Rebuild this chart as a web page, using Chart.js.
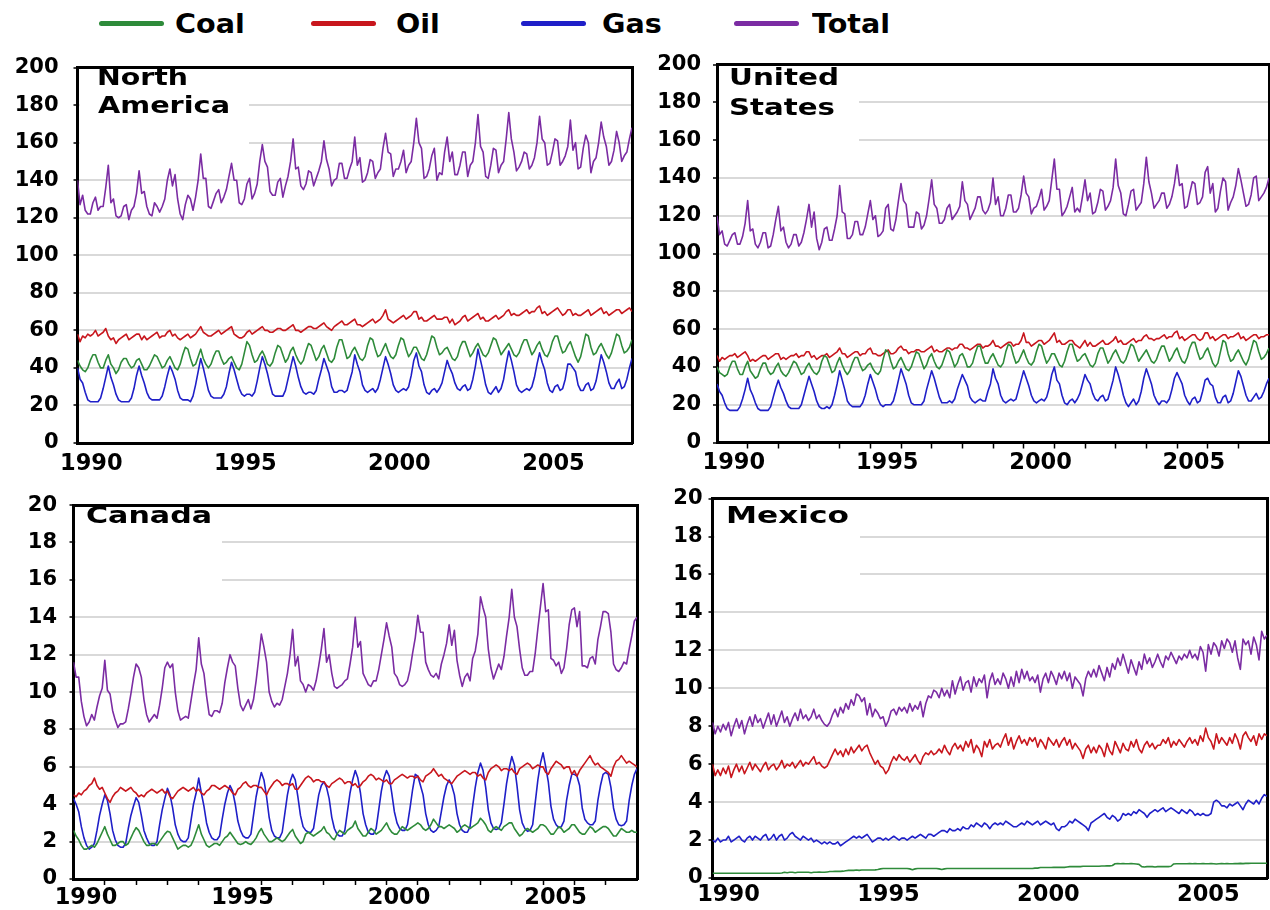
<!DOCTYPE html>
<html><head><meta charset="utf-8">
<script src="https://cdn.jsdelivr.net/npm/chart.js@4.4.1/dist/chart.umd.min.js"></script>
<style>
html,body{margin:0;padding:0;background:#fff;width:1270px;height:910px;overflow:hidden;}
#wrap{position:relative;width:1270px;height:910px;}
canvas{position:absolute;}
.ln{position:absolute;top:21px;height:5px;width:65px;border-radius:3px;}
.tx{position:absolute;top:11px;font:bold 26px "DejaVu Sans";line-height:26px;transform:scaleX(1.1);transform-origin:0 0;white-space:nowrap;color:#000;}
</style></head><body>
<div id="wrap">
<canvas id="cNA" width="640" height="440" style="left:0;top:40px"></canvas>
<canvas id="cUS" width="630" height="440" style="left:640px;top:40px"></canvas>
<canvas id="cCA" width="640" height="430" style="left:0;top:480px"></canvas>
<canvas id="cMX" width="630" height="430" style="left:640px;top:480px"></canvas>
</div>
<script>
// ---------------- DATA (monthly, starting January 1990) ----------------
const START_YEAR = 1990;
const seriesNames = ['Coal', 'Oil', 'Gas', 'Total'];
const xTickLabels = ['1990', '1995', '2000', '2005'];
const yTicksLarge = [0, 20, 40, 60, 80, 100, 120, 140, 160, 180, 200];
const yTicksSmall = [0, 2, 4, 6, 8, 10, 12, 14, 16, 18, 20];
const titleNA = ['North', 'America'];
const titleUS = ['United', 'States'];
const titleCA = ['Canada'];
const titleMX = ['Mexico'];

const naCoal = [
44,41,39,38,40,44,47,47,43,40,40,44,
47,42,40,37,39,43,45,45,42,40,41,44,
45,42,39,39,41,44,47,46,43,40,41,44,
46,43,40,39,42,47,51,50,45,41,42,46,
50,45,42,40,42,46,49,49,45,42,43,45,
46,43,40,39,42,48,54,52,47,43,44,47,
49,46,42,41,43,48,52,51,47,43,45,49,
51,47,44,42,44,49,53,52,48,44,46,50,
52,48,44,43,45,51,55,55,50,45,46,49,
51,48,45,44,46,52,56,55,50,46,47,50,
53,49,46,45,47,52,56,55,50,46,48,51,
51,48,45,44,47,52,57,56,51,47,48,50,
51,48,45,44,46,51,54,54,50,46,48,51,
53,50,47,46,48,52,56,55,51,47,49,51,
53,50,47,46,48,52,55,55,51,47,49,52,
54,50,47,46,49,54,57,57,52,48,49,52,
54,50,46,43,46,52,58,57,51,47,48,51,
53,50,47,45,48,53,58,57,52,48,49,51,
55];
const naOil = [
58,54,57,56,58,57,58,60,57,58,59,61,
57,55,56,53,55,56,57,58,55,56,57,58,
58,55,57,55,56,57,58,59,56,57,57,59,
60,57,58,56,55,56,57,58,56,57,58,60,
62,59,58,57,57,58,59,60,58,59,60,61,
62,58,57,56,56,57,59,60,58,59,60,61,
62,60,60,59,59,60,61,61,60,60,61,62,
63,60,60,59,60,61,62,62,61,61,62,63,
64,62,61,60,62,63,64,65,63,63,64,65,
66,63,63,62,63,64,65,66,64,65,66,68,
71,66,65,64,65,66,67,68,66,67,68,70,
70,66,67,65,65,66,67,68,66,66,66,67,
67,64,66,63,64,65,67,68,65,66,67,68,
69,66,67,65,65,66,67,68,66,67,68,70,
71,68,69,68,68,69,70,71,69,70,70,72,
73,69,70,68,69,70,71,72,70,68,69,71,
71,68,69,68,68,69,70,71,68,69,70,71,
72,69,70,68,69,70,71,71,69,70,71,72,
70];
const naGas = [
40,34,32,27,23,22,22,22,22,24,29,35,
41,35,31,26,23,22,22,22,22,24,29,36,
41,36,32,27,24,23,23,23,23,25,30,36,
41,38,34,28,24,23,23,23,22,25,31,38,
45,40,34,28,25,24,24,24,24,26,30,37,
43,39,34,29,26,25,26,26,25,27,33,40,
46,42,37,31,26,25,25,25,25,28,34,40,
46,41,35,30,27,26,27,27,26,28,34,39,
45,41,37,30,27,27,28,28,27,28,33,38,
47,42,38,31,28,27,28,29,27,29,34,40,
46,42,37,31,28,27,28,29,28,30,36,44,
48,41,38,31,27,26,28,29,27,29,32,38,
44,40,37,32,29,28,30,31,28,29,34,41,
50,44,38,31,27,26,28,30,27,29,34,42,
49,44,38,31,28,27,28,29,28,30,35,42,
48,43,39,32,28,27,30,31,28,29,34,42,
42,40,38,31,28,28,31,32,28,29,33,40,
47,43,38,32,29,29,32,34,29,30,34,40,
45];
const naTotal = [
140,127,132,124,122,122,128,131,124,126,126,136,
148,128,130,121,120,121,126,127,119,124,126,133,
145,133,134,126,122,121,128,126,123,126,130,140,
146,137,143,130,122,119,127,132,130,124,131,140,
154,141,141,126,125,129,133,135,128,131,135,142,
149,140,140,128,127,130,138,141,130,133,138,150,
159,150,147,134,132,132,139,141,131,137,142,150,
162,146,147,137,135,138,145,144,137,141,145,150,
161,151,146,137,140,141,149,149,141,141,146,150,
163,148,152,139,140,144,151,150,141,144,146,157,
165,155,154,142,146,146,150,156,144,148,150,160,
173,160,157,141,142,146,153,157,140,144,143,155,
163,150,155,143,143,148,155,155,142,148,150,160,
175,158,155,142,141,148,157,156,144,148,150,162,
176,162,155,145,147,150,155,154,146,148,152,160,
174,162,160,148,149,155,162,161,148,150,153,158,
172,156,160,146,147,157,164,160,144,150,152,160,
171,163,158,148,150,156,166,160,150,153,155,162,
168];

const usCoal = [
40,37,36,35,36,40,43,43,39,36,36,40,
43,38,36,34,35,39,42,42,38,36,37,40,
42,38,36,35,37,40,43,42,39,36,37,40,
42,39,37,36,38,43,46,45,41,37,38,42,
45,41,38,36,38,42,45,45,41,38,39,41,
42,39,37,36,38,44,49,48,43,39,40,43,
45,42,39,38,40,44,48,47,43,39,41,45,
47,43,40,39,41,45,49,48,44,40,42,46,
47,44,40,40,42,47,51,51,46,42,42,45,
47,44,41,40,42,48,52,51,46,42,43,46,
49,45,42,41,43,48,52,51,46,42,44,47,
47,44,41,40,43,48,52,52,47,43,44,46,
47,44,41,40,42,47,50,50,46,42,44,47,
49,46,43,42,44,48,52,51,47,43,45,47,
49,46,43,42,44,48,51,51,47,43,45,48,
50,46,43,42,45,50,53,53,48,44,45,48,
50,46,42,40,42,48,54,53,47,43,44,47,
49,46,43,41,44,49,54,53,48,44,45,47,
50];
const usOil = [
46,43,45,44,45,46,46,47,45,46,47,48,
46,43,44,43,44,45,46,46,44,45,46,47,
47,44,45,44,45,46,46,47,45,46,46,48,
48,45,46,44,45,46,46,47,45,46,47,48,
50,47,47,45,46,47,48,48,46,47,47,49,
50,47,47,46,46,47,48,49,47,47,48,50,
51,49,49,47,48,48,49,49,48,48,49,50,
51,48,49,48,48,49,50,50,49,50,50,52,
52,50,50,49,50,51,52,52,50,51,51,52,
54,51,51,50,51,52,53,53,51,52,52,54,
58,53,53,51,52,53,54,54,52,53,54,56,
58,53,54,52,52,53,54,54,52,51,50,52,
54,51,53,51,51,52,53,54,52,52,53,54,
56,53,54,52,52,53,54,55,53,54,54,56,
57,55,55,54,55,55,56,57,55,56,56,58,
59,55,56,54,55,56,57,57,55,54,55,58,
58,55,56,54,55,56,57,57,55,56,56,57,
58,55,56,54,55,56,57,57,55,56,56,57,
57];
const usGas = [
31,27,25,21,18,17,17,17,17,19,23,28,
34,28,25,21,18,17,17,17,17,19,24,29,
33,29,26,22,19,18,18,18,18,20,25,30,
35,31,27,22,19,18,18,19,18,20,25,31,
38,33,28,22,20,19,19,19,19,21,25,31,
36,32,28,23,20,19,20,20,20,22,27,33,
39,35,31,25,21,20,20,20,20,22,28,33,
38,34,29,24,21,21,21,22,21,23,28,32,
36,33,30,24,22,21,22,23,22,22,27,31,
39,34,31,25,22,21,22,23,22,23,28,33,
38,34,30,25,22,21,22,23,22,24,29,36,
40,33,31,25,21,20,22,23,21,23,26,31,
36,33,31,26,23,22,24,25,22,23,28,33,
40,36,31,25,21,19,21,23,20,22,27,34,
39,35,31,25,22,20,22,22,21,23,28,34,
37,34,31,25,22,20,23,24,21,22,27,33,
34,31,30,24,21,21,24,25,21,22,26,32,
38,35,30,25,22,22,24,26,23,24,27,31,
34];
const usTotal = [
120,110,112,105,104,107,110,111,105,105,109,116,
128,112,113,105,103,106,111,111,103,104,110,118,
125,112,114,106,103,105,110,110,104,106,111,118,
126,114,122,108,102,106,113,114,107,107,113,120,
136,122,121,108,108,110,117,117,110,110,114,121,
128,118,120,109,110,112,124,126,113,112,118,128,
137,128,126,114,114,114,122,121,113,115,120,129,
139,126,124,116,116,118,124,126,118,120,122,125,
138,128,126,118,121,124,130,130,123,121,123,127,
140,126,130,120,120,124,131,131,122,122,124,131,
141,132,130,121,124,125,129,134,123,125,128,139,
150,134,134,120,122,125,130,135,122,124,122,130,
139,128,132,121,122,127,134,133,123,125,128,135,
150,136,132,121,120,126,133,134,123,125,127,137,
151,138,132,124,126,128,132,132,124,126,130,137,
147,136,137,124,125,132,138,137,126,127,130,143,
146,132,137,122,124,133,140,138,123,127,130,136,
145,139,132,125,126,131,140,141,128,130,132,135,
140];

const caCoal = [
2.6,2.3,2.1,1.8,1.6,1.6,1.7,1.8,1.7,1.9,2.2,2.5,
2.8,2.4,2.1,1.8,1.8,1.9,2.0,2.0,1.8,1.9,2.2,2.5,
2.75,2.6,2.3,2.0,1.8,1.8,1.9,1.9,1.8,2.0,2.2,2.4,
2.55,2.5,2.2,1.9,1.6,1.7,1.8,1.8,1.7,1.8,2.1,2.5,
2.9,2.4,2.1,1.8,1.7,1.8,1.9,1.9,1.8,2.0,2.2,2.3,
2.5,2.3,2.1,1.9,1.85,1.9,2.0,1.9,1.85,2.0,2.2,2.5,
2.7,2.4,2.2,2.0,2.0,2.1,2.2,2.1,2.0,2.1,2.3,2.5,
2.65,2.3,2.1,1.9,2.0,2.4,2.5,2.4,2.3,2.4,2.5,2.6,
2.8,2.5,2.4,2.2,2.1,2.4,2.6,2.5,2.4,2.6,2.7,2.8,
3.1,2.7,2.5,2.3,2.3,2.5,2.7,2.6,2.4,2.5,2.6,2.8,
3.0,2.7,2.5,2.4,2.4,2.6,2.8,2.7,2.6,2.7,2.8,2.9,
3.0,2.9,2.7,2.6,2.7,2.9,3.2,3.0,2.8,2.8,2.7,2.8,
2.9,2.8,2.7,2.5,2.6,2.8,2.9,2.8,2.7,2.8,2.9,3.0,
3.25,3.1,2.9,2.6,2.5,2.7,2.8,2.7,2.6,2.8,2.9,3.0,
3.0,2.7,2.5,2.3,2.4,2.6,2.7,2.6,2.5,2.6,2.7,2.9,
2.9,2.8,2.6,2.4,2.4,2.6,2.8,2.7,2.5,2.6,2.7,2.9,
2.9,2.7,2.5,2.4,2.4,2.6,2.8,2.7,2.5,2.6,2.7,2.8,
2.8,2.7,2.5,2.3,2.3,2.5,2.7,2.6,2.5,2.5,2.6,2.5,
2.5];
const caOil = [
4.5,4.4,4.6,4.5,4.7,4.8,5.0,5.1,5.4,5.0,4.8,4.9,
4.6,4.3,4.1,4.4,4.6,4.7,4.9,4.8,4.7,4.8,4.9,4.7,
4.6,4.4,4.5,4.4,4.6,4.7,4.8,4.7,4.6,4.7,4.8,4.6,
4.7,4.4,4.3,4.5,4.7,4.8,4.9,4.8,4.7,4.8,4.9,4.7,
4.8,4.6,4.5,4.7,4.8,5.0,5.0,4.9,4.8,4.9,5.0,4.9,
4.8,4.6,4.5,4.8,4.9,5.1,5.2,5.0,4.9,5.0,5.0,4.9,
4.9,4.7,4.5,4.8,5.0,5.2,5.3,5.2,5.0,5.1,5.1,5.0,
5.1,4.8,4.8,5.0,5.2,5.4,5.5,5.4,5.2,5.3,5.3,5.2,
5.2,5.0,4.9,5.1,5.2,5.3,5.4,5.3,5.1,5.2,5.2,5.0,
5.1,4.9,5.0,5.2,5.3,5.5,5.6,5.5,5.3,5.4,5.3,5.2,
5.3,5.1,5.1,5.3,5.4,5.5,5.6,5.5,5.4,5.5,5.5,5.4,
5.5,5.3,5.2,5.5,5.6,5.7,5.9,5.7,5.5,5.6,5.4,5.3,
5.2,5.1,5.3,5.5,5.6,5.7,5.8,5.7,5.6,5.7,5.7,5.5,
5.6,5.4,5.3,5.7,5.9,6.0,6.1,6.0,5.8,5.9,5.9,5.8,
5.9,5.7,5.6,5.9,6.0,6.1,6.2,6.1,5.9,6.0,6.1,6.0,
6.0,5.7,5.6,5.9,6.1,6.3,6.2,6.1,5.9,6.0,6.0,5.6,
5.8,5.5,5.8,6.0,6.2,6.4,6.6,6.3,6.1,6.2,6.0,5.9,
5.8,5.7,5.5,6.0,6.3,6.4,6.6,6.4,6.2,6.3,6.2,6.1,
6.0];
const caGas = [
4.3,4.0,3.6,2.8,2.2,1.8,1.6,1.7,1.9,2.6,3.4,4.0,
4.5,4.2,3.5,2.6,2.1,1.8,1.7,1.7,1.9,2.7,3.4,3.9,
4.35,4.1,3.4,2.6,2.2,1.9,1.8,1.8,2.0,2.9,3.7,4.3,
4.85,4.5,3.8,2.9,2.4,2.1,2.0,2.0,2.2,3.1,4.0,4.6,
5.4,4.6,3.9,3.0,2.5,2.2,2.1,2.1,2.3,3.2,4.0,4.6,
5.0,4.7,4.0,3.1,2.6,2.3,2.2,2.2,2.4,3.4,4.4,5.1,
5.7,5.3,4.4,3.3,2.6,2.3,2.2,2.2,2.5,3.5,4.5,5.2,
5.6,5.3,4.4,3.4,2.8,2.6,2.5,2.5,2.7,3.6,4.5,5.0,
5.2,4.9,4.3,3.3,2.7,2.4,2.3,2.3,2.6,3.6,4.6,5.3,
5.8,5.4,4.6,3.5,2.9,2.5,2.4,2.4,2.7,3.7,4.7,5.4,
5.8,5.5,4.6,3.6,3.0,2.7,2.6,2.6,2.9,3.8,4.8,5.6,
5.5,5.0,4.5,3.5,2.9,2.6,2.5,2.6,2.8,3.6,4.4,5.0,
5.3,5.0,4.5,3.5,2.9,2.6,2.5,2.5,2.8,3.9,4.9,5.7,
6.2,5.8,4.9,3.7,3.0,2.7,2.65,2.7,3.0,4.0,5.1,5.9,
6.55,6.1,5.0,3.7,3.0,2.7,2.55,2.6,2.9,4.1,5.3,6.2,
6.75,6.0,5.2,3.9,3.2,2.9,2.75,2.8,3.1,4.2,5.0,5.6,
5.6,5.5,5.0,3.8,3.2,3.0,2.9,2.9,3.1,4.2,5.0,5.6,
5.7,5.6,4.9,3.8,3.2,2.9,2.85,2.9,3.1,4.2,5.0,5.6,
5.9];
const caTotal = [
11.6,10.8,10.8,9.5,8.7,8.2,8.4,8.8,8.5,9.2,9.8,10.2,
11.7,10.1,9.9,9.0,8.5,8.1,8.3,8.3,8.4,9.1,9.9,10.8,
11.5,11.3,10.8,9.6,8.8,8.4,8.6,8.8,8.6,9.3,10.2,11.3,
11.6,11.3,11.5,10.0,9.0,8.5,8.6,8.7,8.6,9.5,10.4,11.2,
12.9,11.5,11.0,9.8,8.8,8.7,9.0,9.0,8.9,9.4,10.5,11.3,
12.0,11.6,11.4,10.2,9.3,9.0,9.3,9.6,9.1,9.6,10.6,11.8,
13.1,12.4,11.6,10.0,9.5,9.2,9.4,9.3,9.6,10.3,11.0,12.0,
13.35,11.4,11.9,10.6,10.4,10.0,10.4,10.3,10.1,10.6,11.4,12.3,
13.4,11.6,12.0,11.0,10.3,10.2,10.3,10.4,10.6,10.7,11.5,12.4,
14.0,12.4,12.7,11.0,10.7,10.4,10.3,10.6,10.6,11.2,12.0,12.8,
13.7,13.0,12.4,11.0,10.8,10.4,10.3,10.4,10.6,11.2,12.1,12.9,
14.1,13.2,13.2,11.6,11.2,10.9,10.8,11.0,10.7,11.5,12.0,12.6,
13.6,12.5,13.3,11.7,10.9,10.3,10.8,11.0,10.6,11.8,12.2,13.1,
15.1,14.5,14.0,12.3,11.3,10.7,11.1,11.5,11.2,11.9,13.0,14.0,
15.5,14.0,13.5,12.3,11.3,10.9,10.9,11.1,11.1,12.1,13.4,14.6,
15.8,14.3,14.4,11.8,11.7,11.4,11.6,11.0,11.3,12.3,13.6,14.4,
14.5,13.5,14.3,11.4,11.4,11.3,11.8,11.9,11.5,12.8,13.5,14.3,
14.3,14.2,13.2,11.5,11.2,11.1,11.3,11.6,11.5,12.3,13.0,13.8,
14.0];

const mxCoal = [
0.25,0.25,0.25,0.25,0.25,0.25,0.25,0.25,0.25,0.25,0.25,0.25,
0.25,0.25,0.25,0.25,0.25,0.25,0.25,0.25,0.25,0.25,0.25,0.25,
0.25,0.25,0.26,0.3,0.28,0.3,0.3,0.28,0.3,0.3,0.3,0.3,
0.3,0.28,0.3,0.3,0.32,0.3,0.3,0.32,0.34,0.34,0.35,0.35,
0.35,0.36,0.38,0.4,0.4,0.4,0.42,0.4,0.42,0.42,0.42,0.42,
0.42,0.43,0.45,0.48,0.5,0.5,0.5,0.5,0.5,0.5,0.5,0.5,
0.5,0.5,0.48,0.44,0.48,0.5,0.5,0.5,0.5,0.5,0.5,0.5,
0.5,0.48,0.45,0.48,0.5,0.5,0.5,0.5,0.5,0.5,0.5,0.5,
0.5,0.5,0.5,0.5,0.5,0.5,0.5,0.5,0.5,0.5,0.5,0.5,
0.5,0.5,0.5,0.5,0.5,0.5,0.5,0.5,0.5,0.5,0.5,0.5,
0.5,0.52,0.52,0.55,0.55,0.55,0.55,0.55,0.56,0.56,0.56,0.56,
0.56,0.58,0.6,0.6,0.6,0.6,0.6,0.62,0.62,0.62,0.62,0.62,
0.62,0.62,0.63,0.63,0.64,0.64,0.66,0.75,0.76,0.75,0.76,0.75,
0.75,0.76,0.75,0.74,0.72,0.6,0.58,0.6,0.6,0.6,0.58,0.6,
0.6,0.6,0.6,0.6,0.62,0.74,0.75,0.75,0.75,0.75,0.75,0.76,
0.75,0.76,0.75,0.75,0.76,0.75,0.75,0.76,0.75,0.74,0.75,0.76,
0.75,0.76,0.75,0.75,0.76,0.76,0.77,0.76,0.77,0.77,0.78,0.78,
0.78,0.78,0.78,0.78,0.78];
const mxOil = [
6.0,5.4,5.7,5.4,5.8,5.5,5.9,5.3,5.7,6.0,5.6,5.9,
5.5,5.8,6.1,5.7,6.0,5.8,5.6,5.9,6.1,5.7,5.9,6.0,
5.7,5.9,6.2,5.8,6.0,5.9,6.1,5.8,6.0,6.2,5.9,6.1,
6.0,6.2,6.4,6.0,6.1,5.9,5.8,5.9,6.2,6.5,6.8,6.5,
6.7,6.4,6.8,6.5,6.9,6.6,6.8,7.0,6.7,6.9,7.0,6.6,
6.3,6.0,6.2,5.9,5.8,5.5,5.7,6.1,6.4,6.2,6.5,6.3,
6.2,6.4,6.1,6.3,6.5,6.2,6.0,6.4,6.6,6.5,6.7,6.5,
6.6,6.8,6.6,7.0,6.7,6.5,6.9,7.1,6.8,7.0,6.7,7.2,
6.9,7.3,6.6,7.0,6.8,6.4,7.2,6.9,7.3,6.8,7.0,7.1,
6.9,7.3,7.6,7.0,7.4,6.8,7.2,7.5,7.1,7.3,7.0,7.4,
7.2,7.4,6.9,7.3,7.1,6.8,7.4,7.2,7.0,7.3,6.9,7.2,
7.4,7.0,7.3,6.8,7.1,6.9,6.7,6.3,6.8,7.0,6.6,6.9,
6.6,7.0,6.8,6.4,7.1,6.7,6.5,7.2,6.9,6.6,7.1,6.8,
6.7,7.2,6.9,7.3,6.8,6.6,7.0,7.2,6.9,7.1,6.8,7.0,
7.0,7.3,7.1,7.4,6.9,7.2,7.0,7.3,7.1,6.9,7.2,7.4,
7.1,7.3,7.0,7.5,7.2,7.9,7.4,7.2,6.8,7.6,7.1,7.4,
7.2,7.0,7.4,7.1,7.6,7.3,6.8,7.5,7.7,7.4,7.2,7.5,
7.0,7.6,7.3,7.6,7.5];
const mxGas = [
2.0,1.9,2.1,1.9,2.0,2.0,2.2,1.9,2.0,2.1,2.2,2.0,
1.9,2.1,2.2,2.0,2.2,2.1,2.0,2.2,2.3,2.0,2.1,2.3,
2.0,2.2,2.3,2.0,2.1,2.3,2.4,2.2,2.1,2.0,2.2,2.1,
2.0,2.1,1.9,2.0,1.9,1.8,1.9,1.8,1.9,1.8,1.8,1.9,
1.7,1.8,1.9,2.0,2.1,2.2,2.1,2.2,2.1,2.2,2.3,2.1,
1.9,2.0,2.1,2.1,2.0,2.1,2.0,2.1,2.2,2.1,2.0,2.1,
2.1,2.0,2.1,2.2,2.1,2.2,2.3,2.2,2.1,2.3,2.3,2.2,
2.3,2.4,2.5,2.5,2.4,2.6,2.5,2.5,2.6,2.5,2.7,2.6,
2.6,2.8,2.7,2.9,2.8,2.7,2.9,2.8,2.6,2.8,2.9,2.8,
2.9,2.8,3.0,2.9,2.8,2.7,2.7,2.8,2.9,2.8,3.0,2.9,
2.8,2.9,3.0,2.8,2.9,3.0,2.9,2.8,2.9,2.6,2.5,2.7,
2.7,2.8,3.0,2.9,3.1,3.0,2.9,2.8,2.7,2.5,2.9,3.0,
3.1,3.2,3.3,3.4,3.2,3.1,3.3,3.2,3.0,3.1,3.4,3.3,
3.4,3.3,3.5,3.4,3.6,3.5,3.4,3.2,3.4,3.5,3.6,3.5,
3.6,3.7,3.5,3.6,3.7,3.6,3.5,3.4,3.6,3.5,3.4,3.6,
3.5,3.3,3.4,3.3,3.4,3.3,3.3,3.4,4.0,4.1,4.0,3.8,
3.8,3.7,3.9,3.8,3.9,4.0,3.8,3.6,3.9,4.1,4.0,3.9,
4.1,3.9,4.2,4.4,4.3];
const mxTotal = [
8.2,7.6,8.0,7.7,8.1,7.8,8.2,7.5,8.0,8.4,7.9,8.3,
7.6,8.1,8.5,8.0,8.6,8.2,8.4,7.9,8.3,8.7,8.1,8.6,
8.0,8.4,8.8,8.2,8.5,8.0,8.4,8.7,8.3,8.9,8.4,8.6,
8.3,8.5,8.9,8.4,8.6,8.3,8.1,8.0,8.2,8.6,8.9,8.5,
9.0,8.7,9.2,8.9,9.4,9.1,9.7,9.6,9.3,9.5,8.6,9.2,
8.5,8.9,8.7,8.4,8.5,8.0,8.3,8.8,8.9,8.6,9.0,8.8,
9.0,8.7,9.2,8.8,9.1,8.9,9.3,8.5,9.2,9.6,9.5,9.9,
9.8,9.5,10.0,9.6,9.9,9.5,10.4,9.7,10.2,10.6,9.9,10.3,
10.4,9.8,10.6,10.1,10.5,10.3,10.7,9.5,10.4,10.8,10.2,10.5,
10.2,10.8,10.5,10.0,10.6,10.1,10.9,10.3,11.0,10.5,10.9,10.4,
10.6,10.3,10.7,9.8,10.5,10.8,10.3,10.9,10.6,10.2,10.8,10.5,
10.9,10.4,10.8,10.0,10.6,10.4,10.2,9.6,10.5,10.9,10.6,11.0,
10.6,11.2,10.8,10.4,11.1,10.6,11.3,11.0,11.6,11.2,11.8,11.3,
10.8,11.5,11.1,10.7,11.4,11.0,11.8,11.3,11.6,11.1,11.4,11.8,
11.4,11.1,11.7,11.5,11.9,11.6,11.3,11.7,11.5,11.8,11.6,12.0,
11.6,11.8,11.5,12.2,11.9,10.9,12.3,11.8,12.4,12.2,11.7,12.5,
12.1,12.6,12.4,11.9,12.5,11.6,11.0,12.6,12.3,12.5,11.8,12.7,
12.3,11.5,13.0,12.6,12.8];

// ---------------- STYLE / LAYOUT ----------------
const colors = ['#2e8b3a', '#c8161d', '#1f1fc8', '#7b2ca3'];
const FONT = 'DejaVu Sans';

// legend (HTML, real text)
const legendLineX = [99, 311, 521, 734];
const legendTextX = [175, 396, 602, 812];
const wrap = document.getElementById('wrap');
seriesNames.forEach((n, i) => {
  const l = document.createElement('div');
  l.className = 'ln'; l.style.left = legendLineX[i] + 'px'; l.style.background = colors[i];
  wrap.appendChild(l);
  const t = document.createElement('div');
  t.className = 'tx'; t.style.left = legendTextX[i] + 'px'; t.textContent = n;
  wrap.appendChild(t);
});

function toPoints(arr) { return arr.map((v, i) => ({ x: START_YEAR + i / 12, y: v })); }

function makePanel(p) {
  const xMax = START_YEAR + (p.series[0].length - 1) / 12;
  const labelVals = xTickLabels.map(s => parseInt(s, 10) + p.labelOffset);
  const yearVals = [];
  for (let y = START_YEAR + 1; y < Math.floor(xMax + 1e-9); y++) yearVals.push(y);
  const tickVals = yearVals.concat(labelVals).sort((a, b) => a - b);
  const yTicks = p.yTicks;

  const titlePlugin = {
    id: 'panelTitle',
    beforeDatasetsDraw(chart) {
      const { ctx, chartArea, scales } = chart;
      const yb = scales.y.getPixelForValue(p.boxBottom);
      ctx.save();
      ctx.fillStyle = '#fff';
      ctx.fillRect(chartArea.left + 2, chartArea.top + 2, p.boxRight - chartArea.left - 2, yb - chartArea.top - 2);
      ctx.restore();
    },
    afterDatasetsDraw(chart) {
      const ctx = chart.ctx;
      ctx.save();
      ctx.fillStyle = '#000';
      ctx.font = 'bold 23.5px "' + FONT + '"';
      ctx.textBaseline = 'alphabetic';
      ctx.textAlign = 'left';
      p.title.forEach((t, i) => {
        const [x, y, w] = p.titlePos[i];
        const m = ctx.measureText(t).width;
        ctx.save(); ctx.translate(x, y); ctx.scale(w / m, 1); ctx.fillText(t, 0, 0); ctx.restore();
      });
      ctx.restore();
    }
  };

  new Chart(document.getElementById(p.id), {
    type: 'line',
    data: {
      datasets: p.series.map((arr, i) => ({
        label: seriesNames[i],
        data: toPoints(arr),
        borderColor: colors[i],
        backgroundColor: colors[i],
        borderWidth: 1.6,
        pointRadius: 0,
        tension: 0,
        borderJoinStyle: 'round',
        fill: false
      }))
    },
    options: {
      responsive: false,
      animation: false,
      devicePixelRatio: 1,
      layout: { padding: { left: 0, right: p.padRight, top: p.padTop, bottom: 0 } },
      plugins: { legend: { display: false }, tooltip: { enabled: false }, title: { display: false } },
      scales: {
        x: {
          type: 'linear', min: START_YEAR, max: xMax,
          afterBuildTicks: s => { s.ticks = tickVals.map(v => ({ value: v })); },
          afterFit: s => { s.height = p.xAxisH; },
          ticks: {
            autoSkip: false, maxRotation: 0, minRotation: 0, padding: p.xPad, color: '#000',
            font: { family: FONT, size: 22.5, weight: 'bold', lineHeight: 1 },
            callback: (v) => { const k = labelVals.indexOf(v); return k >= 0 ? xTickLabels[k] : ''; }
          },
          grid: {
            drawOnChartArea: false, drawTicks: true, tickLength: 6, tickWidth: 1.5,
            tickColor: (c) => (p.yearTicks && c.tick && Number.isInteger(c.tick.value)) ? '#000' : 'rgba(0,0,0,0)'
          },
          border: { display: true, color: '#000', width: 3 }
        },
        y: {
          type: 'linear', min: yTicks[0], max: yTicks[yTicks.length - 1],
          afterBuildTicks: s => { s.ticks = yTicks.map(v => ({ value: v })); },
          afterFit: s => { s.width = p.yAxisW; },
          ticks: { padding: p.yPad, color: '#000', font: { family: FONT, size: 21, weight: 'bold' }, callback: v => String(v) },
          grid: { color: '#d9d9d9', lineWidth: 2, tickColor: '#000', tickLength: 4, tickWidth: 1.5 },
          border: { display: true, color: '#000', width: 3 }
        },
        xTop: {
          type: 'linear', position: 'top', min: 0, max: 1,
          afterFit: s => { s.height = 0; },
          ticks: { display: false }, grid: { display: false, drawTicks: false },
          border: { display: true, color: '#000', width: 3 }
        },
        yRight: {
          type: 'linear', position: 'right', min: 0, max: 1,
          afterFit: s => { s.width = 0; },
          ticks: { display: false }, grid: { display: false, drawTicks: false },
          border: { display: true, color: '#000', width: 3 }
        }
      }
    },
    plugins: [titlePlugin]
  });
}

makePanel({ id: 'cNA', series: [naCoal, naOil, naGas, naTotal], yTicks: yTicksLarge,
  yAxisW: 77.5, padRight: 8, padTop: 17, xAxisH: 37, xPad: 4, yPad: 15, labelOffset: 0.45, yearTicks: false,
  title: titleNA, titlePos: [[97, 45, 91], [98, 73, 132]], boxRight: 249, boxBottom: 150 });
makePanel({ id: 'cUS', series: [usCoal, usOil, usGas, usTotal], yTicks: yTicksLarge,
  yAxisW: 77, padRight: 1, padTop: 17, xAxisH: 37.5, xPad: 3.5, yPad: 12, labelOffset: 0.55, yearTicks: true,
  title: titleUS, titlePos: [[89, 45, 110], [89, 75, 106]], boxRight: 219, boxBottom: 150 });
makePanel({ id: 'cCA', series: [caCoal, caOil, caGas, caTotal], yTicks: yTicksSmall,
  yAxisW: 73.5, padRight: 3, padTop: 16.5, xAxisH: 31, xPad: 2, yPad: 12.5, labelOffset: 0.4, yearTicks: true,
  title: titleCA, titlePos: [[86, 43, 126]], boxRight: 222, boxBottom: 15 });
makePanel({ id: 'cMX', series: [mxCoal, mxOil, mxGas, mxTotal], yTicks: yTicksSmall,
  yAxisW: 72.5, padRight: 3, padTop: 14.5, xAxisH: 32, xPad: 0, yPad: 6, labelOffset: 0.5, yearTicks: false,
  title: titleMX, titlePos: [[86, 42.5, 123]], boxRight: 220, boxBottom: 15 });
</script>
</body></html>
